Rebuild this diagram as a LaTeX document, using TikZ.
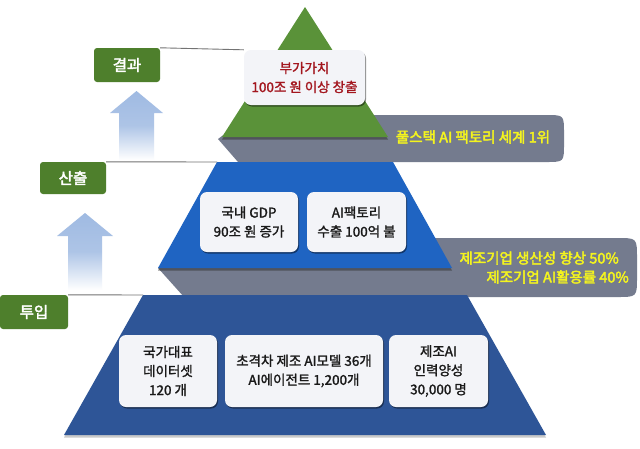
\documentclass[tikz,border=0pt]{standalone}
\usepackage{fontspec}
\newfontfamily\kr{Noto Sans CJK KR}[FakeBold=1.6]
\newfontfamily\krb{Noto Sans CJK KR}[FakeBold=2.8]
\usetikzlibrary{shadows}
\definecolor{tgreen}{HTML}{5A9239}
\definecolor{lgreen}{HTML}{4E7F2C}
\definecolor{ublue}{HTML}{1F64C2}
\definecolor{dblue}{HTML}{2E5597}
\definecolor{band}{HTML}{747B8E}
\definecolor{ytext}{HTML}{F4F41E}
\definecolor{rtext}{HTML}{A3161E}
\definecolor{boxfill}{HTML}{F3F4F8}
\definecolor{arrowblue}{HTML}{9FBAE2}
\tikzset{
  wbox/.style={fill=boxfill, rounded corners=7pt, inner sep=0pt, align=center,
    font=\kr\fontsize{13.5}{19}\selectfont, text=black!90,
    drop shadow={shadow xshift=1pt, shadow yshift=-1.5pt, opacity=0.45, fill=black}},
  lab/.style={fill=lgreen, rounded corners=3pt, inner sep=0pt, text=white,
    font=\krb\fontsize{15.5}{18}\selectfont},
  ytxt/.style={text=ytext, font=\krb\fontsize{14.5}{19}\selectfont, inner sep=0pt},
  conn/.style={draw=black!55, line width=0.9pt},
  tiershadow/.style={drop shadow={shadow xshift=0pt, shadow yshift=-2.5pt, opacity=0.55, fill=black!80}},
}
\begin{document}
\begin{tikzpicture}[x=1pt,y=-1pt]
\useasboundingbox (0,0) rectangle (640,448);
\fill[white] (0,0) rectangle (640,448);
% gray bands
\fill[band] (250,115) -- (546,115) .. controls (564,115) .. (564,133) -- (564,144)
  .. controls (564,162) .. (546,162) -- (238,162) -- (218,139) -- cycle;
\fill[band] (200,238) -- (617,238) .. controls (637,238) .. (637,258) -- (637,277)
  .. controls (637,297) .. (617,297) -- (184,297) -- (158,268) -- cycle;
% tiers
\fill[dblue, drop shadow={shadow xshift=0pt, shadow yshift=-2.5pt, opacity=0.35, fill=black!60}]
  (143,295) -- (467,295) -- (546,435) -- (64,435) -- cycle;
\fill[ublue, tiershadow] (217,162) -- (393,162) -- (452,268) -- (158,268) -- cycle;
\fill[tgreen, tiershadow] (305,7) -- (388,137) -- (222,137) -- cycle;
\coordinate (t2) at (217,162);
\coordinate (t3) at (143,295);
% arrows
\shade[top color=arrowblue, bottom color=white, middle color=arrowblue!85]
  (136.5,91) -- (163,113) -- (154,113) -- (154,160) -- (119,160) -- (119,113) -- (110,113) -- cycle;
\shade[top color=arrowblue, bottom color=white, middle color=arrowblue!85]
  (85,213) -- (113,236) -- (102,236) -- (102,290) -- (68,290) -- (68,236) -- (57,236) -- cycle;
% white boxes
\node[wbox, minimum width=121pt, minimum height=55pt, text=rtext] (vbox) at (304.5,77.5)
  {부가가치\\100조 원 이상 창출};
\node[wbox, minimum width=98pt, minimum height=60pt] (gdp) at (249,222) {국내 GDP\\90조 원 증가};
\node[wbox, minimum width=99pt, minimum height=60pt] (exp) at (356.5,222) {AI팩토리\\수출 100억 불};
\node[wbox, minimum width=98pt, minimum height=72pt] (data) at (168,371) {국가대표\\데이터셋\\120 개};
\node[wbox, minimum width=158pt, minimum height=72pt] (model) at (304,371) {초격차 제조 AI모델 36개\\AI에이전트 1,200개};
\node[wbox, minimum width=99pt, minimum height=72pt] (hr) at (438.5,371) {제조AI\\인력양성\\30,000 명};
% yellow texts
\node[ytxt] (y1) at (473,137) {풀스택 AI 팩토리 세계 1위};
\node[ytxt, align=right, anchor=east] (y2) at (629,267.5) {제조기업 생산성 향상 50\%\hspace*{10pt}\\제조기업 AI활용률 40\%};
% labels
\node[lab, minimum width=66pt, minimum height=34pt] (lres) at (127,65) {결과};
\node[lab, minimum width=66pt, minimum height=32pt] (lout) at (73,178) {산출};
\node[lab, minimum width=68pt, minimum height=34pt] (lin) at (34,312) {투입};
% connectors
\draw[conn] (lres.north east) -- (vbox.north west);
\draw[conn] (lout.north east) -- (t2);
\draw[conn] (lin.north east) -- (t3);
\end{tikzpicture}
\end{document}
